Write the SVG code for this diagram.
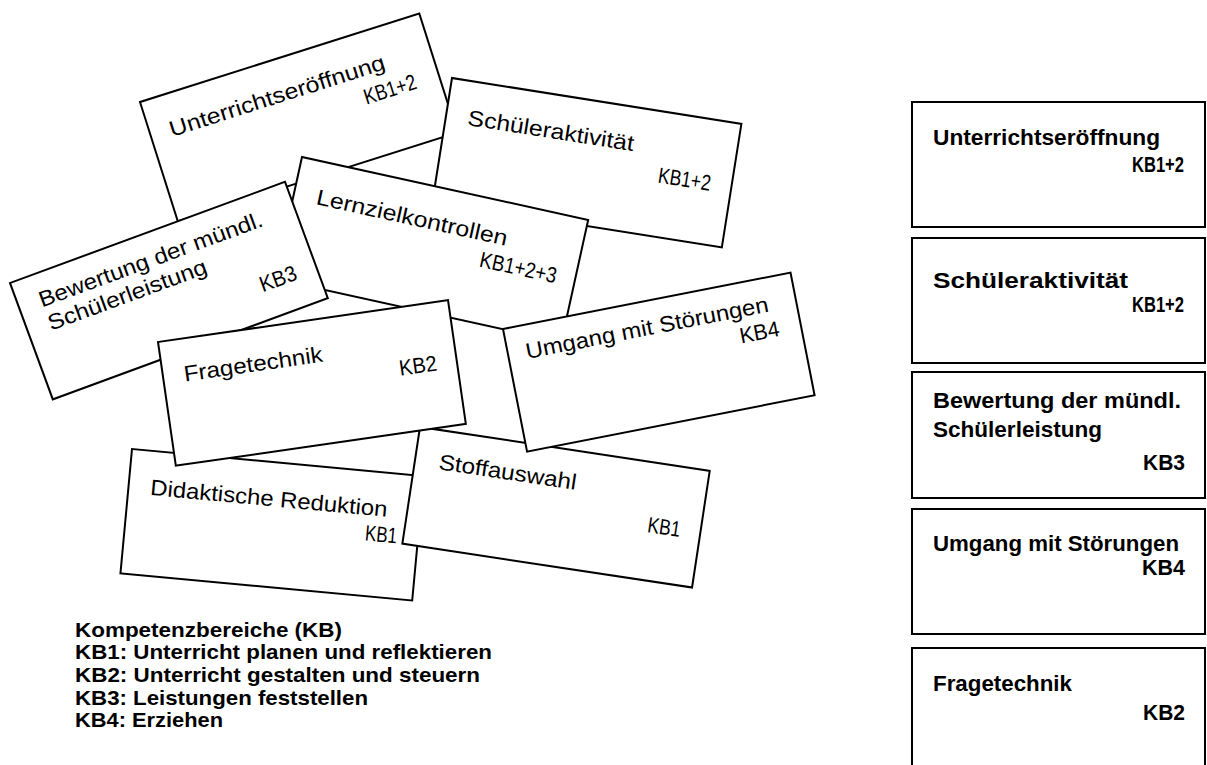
<svg xmlns="http://www.w3.org/2000/svg" width="1207" height="765" viewBox="0 0 1207 765">
<style>
.card{fill:#fff;stroke:#000;stroke-width:2}
.box{fill:#fff;stroke:#000;stroke-width:2}
.t{font-family:"Liberation Sans",Arial,sans-serif;font-size:22px;fill:#000}
.b{font-family:"Liberation Sans",Arial,sans-serif;font-size:21px;font-weight:bold;fill:#000}
.bb{font-family:"Liberation Sans",Arial,sans-serif;font-size:22px;font-weight:bold;fill:#000}
</style>
<rect width="1207" height="765" fill="#fff"/>
<g id="cards">
<g id="card-unterrichtseroeffnung" transform="translate(140,102) rotate(-17.6)">
<rect class="card" width="293" height="125"/>
<text class="t" x="20" y="43" textLength="225" lengthAdjust="spacingAndGlyphs">Unterrichtseröffnung</text>
<text class="t" x="215" y="71" textLength="54" lengthAdjust="spacingAndGlyphs">KB1+2</text>
</g>
<g id="card-schueleraktivitaet" transform="translate(452,78) rotate(9)">
<rect class="card" width="293" height="125"/>
<text class="t" x="22" y="44" textLength="168" lengthAdjust="spacingAndGlyphs">Schüleraktivität</text>
<text class="t" x="219" y="71" textLength="53" lengthAdjust="spacingAndGlyphs">KB1+2</text>
</g>
<g id="card-lernzielkontrollen" transform="translate(302,157) rotate(12.4)">
<rect class="card" width="293" height="125"/>
<text class="t" x="23" y="43" textLength="195" lengthAdjust="spacingAndGlyphs">Lernzielkontrollen</text>
<text class="t" x="196" y="69" textLength="78" lengthAdjust="spacingAndGlyphs">KB1+2+3</text>
</g>
<g id="card-bewertung" transform="translate(10,283) rotate(-20.2)">
<rect class="card" width="293" height="124"/>
<text class="t" x="21.5" y="34" textLength="237" lengthAdjust="spacingAndGlyphs">Bewertung der mündl.</text>
<text class="t" x="22" y="59" textLength="168" lengthAdjust="spacingAndGlyphs">Schülerleistung</text>
<text class="t" x="234" y="96" textLength="38" lengthAdjust="spacingAndGlyphs">KB3</text>
</g>
<g id="card-didaktische-reduktion" transform="translate(132,449) rotate(5.3)">
<rect class="card" width="293" height="125"/>
<text class="t" x="22" y="44" textLength="238" lengthAdjust="spacingAndGlyphs">Didaktische Reduktion</text>
<text class="t" x="240" y="69.5" textLength="32" lengthAdjust="spacingAndGlyphs">KB1</text>
</g>
<g id="card-stoffauswahl" transform="translate(420,427) rotate(8.6)">
<rect class="card" width="293" height="118"/>
<text class="t" x="24" y="39" textLength="139" lengthAdjust="spacingAndGlyphs">Stoffauswahl</text>
<text class="t" x="240" y="70" textLength="33" lengthAdjust="spacingAndGlyphs">KB1</text>
</g>
<g id="card-fragetechnik" transform="translate(158,342) rotate(-8.2)">
<rect class="card" width="293" height="125"/>
<text class="t" x="21" y="43" textLength="140" lengthAdjust="spacingAndGlyphs">Fragetechnik</text>
<text class="t" x="235" y="68" textLength="38" lengthAdjust="spacingAndGlyphs">KB2</text>
</g>
<g id="card-umgang" transform="translate(503,329) rotate(-11.1)">
<rect class="card" width="293" height="125"/>
<text class="t" x="18" y="34" textLength="247" lengthAdjust="spacingAndGlyphs">Umgang mit Störungen</text>
<text class="t" x="231" y="60" textLength="40" lengthAdjust="spacingAndGlyphs">KB4</text>
</g>
</g>
<g id="legend">
<text class="b" x="75" y="637" textLength="267" lengthAdjust="spacingAndGlyphs">Kompetenzbereiche (KB)</text>
<text class="b" x="75" y="659" textLength="417" lengthAdjust="spacingAndGlyphs">KB1: Unterricht planen und reflektieren</text>
<text class="b" x="75" y="682" textLength="405" lengthAdjust="spacingAndGlyphs">KB2: Unterricht gestalten und steuern</text>
<text class="b" x="75" y="705" textLength="293" lengthAdjust="spacingAndGlyphs">KB3: Leistungen feststellen</text>
<text class="b" x="75" y="727" textLength="148" lengthAdjust="spacingAndGlyphs">KB4: Erziehen</text>
</g>
<g id="sorted">
<g id="box-unterrichtseroeffnung">
<rect class="box" x="912" y="102" width="293" height="125"/>
<text class="bb" x="933" y="145" textLength="227" lengthAdjust="spacingAndGlyphs">Unterrichtseröffnung</text>
<text class="bb" x="1132" y="172" textLength="52" lengthAdjust="spacingAndGlyphs">KB1+2</text>
</g>
<g id="box-schueleraktivitaet">
<rect class="box" x="912" y="238" width="293" height="125"/>
<text class="bb" x="933" y="288" textLength="195" lengthAdjust="spacingAndGlyphs">Schüleraktivität</text>
<text class="bb" x="1132" y="312" textLength="52" lengthAdjust="spacingAndGlyphs">KB1+2</text>
</g>
<g id="box-bewertung">
<rect class="box" x="912" y="372" width="293" height="126"/>
<text class="bb" x="933" y="408" textLength="248" lengthAdjust="spacingAndGlyphs">Bewertung der mündl.</text>
<text class="bb" x="933" y="437" textLength="169" lengthAdjust="spacingAndGlyphs">Schülerleistung</text>
<text class="bb" x="1143" y="470" textLength="42" lengthAdjust="spacingAndGlyphs">KB3</text>
</g>
<g id="box-umgang">
<rect class="box" x="912" y="509" width="293" height="125"/>
<text class="bb" x="933" y="551" textLength="246" lengthAdjust="spacingAndGlyphs">Umgang mit Störungen</text>
<text class="bb" x="1142" y="575" textLength="43" lengthAdjust="spacingAndGlyphs">KB4</text>
</g>
<g id="box-fragetechnik">
<rect class="box" x="912" y="648" width="293" height="125"/>
<text class="bb" x="933" y="691" textLength="139" lengthAdjust="spacingAndGlyphs">Fragetechnik</text>
<text class="bb" x="1143" y="720" textLength="42" lengthAdjust="spacingAndGlyphs">KB2</text>
</g>
</g>
</svg>
